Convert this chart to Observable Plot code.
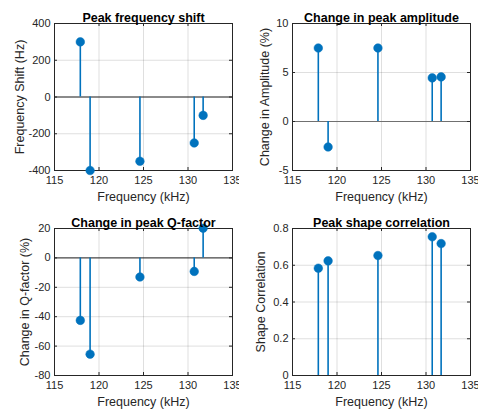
<!DOCTYPE html>
<html>
<head>
<meta charset="utf-8">
<script src="https://cdn.jsdelivr.net/npm/d3@7"></script>
<script src="https://cdn.jsdelivr.net/npm/@observablehq/plot@0.6"></script>
<style>
  html, body { margin: 0; padding: 0; background: #fff; }
  #wrap { position: relative; width: 478px; height: 412px; overflow: hidden; }
  .cell { position: absolute; width: 239px; height: 206px; }
  svg { overflow: visible; }
</style>
</head>
<body>
<div id="wrap">
  <div class="cell" id="p1" style="left:0;top:0"></div>
  <div class="cell" id="p2" style="left:239px;top:0"></div>
  <div class="cell" id="p3" style="left:0;top:206px"></div>
  <div class="cell" id="p4" style="left:239px;top:206px"></div>
</div>
<script>
// ---- data ----
const freqs = [117.9, 119.0, 124.6, 130.7, 131.7];          // kHz
const freqShift = [300, -400, -350, -250, -100];             // Hz
const ampChange = [7.5, -2.6, 7.5, 4.45, 4.55];              // %
const qChange = [-42.5, -65.5, -13, -9.2, 20.2];             // %
const shapeCorr = [0.584, 0.624, 0.653, 0.755, 0.718];
const xTicks = [115, 120, 125, 130, 135];
const yTicks1 = [-400, -200, 0, 200, 400];
const yTicks2 = [-5, 0, 5, 10];
const yTicks3 = [-80, -60, -40, -20, 0, 20];
const yTicks4 = [0, 0.2, 0.4, 0.6, 0.8];
const titles = ["Peak frequency shift", "Change in peak amplitude", "Change in peak Q-factor", "Peak shape correlation"];
const yLabels = ["Frequency Shift (Hz)", "Change in Amplitude (%)", "Change in Q-factor (%)", "Shape Correlation"];
const xLabel = "Frequency (kHz)";

const BLUE = "#0072BD";
const INK = "#262626";
const FONT = "'Liberation Sans', Arial, sans-serif";

function panel(el, {values, yTicks, title, yLabel, baseColor, marginLeft, marginRight, marginTop, marginBottom, yLabelOffset}) {
  const W = 239, H = 206;
  const innerW = W - marginLeft - marginRight;
  const innerH = H - marginTop - marginBottom;
  const data = freqs.map((f, i) => ({f, v: values[i]}));
  const yDomain = [yTicks[0], yTicks[yTicks.length - 1]];
  const chart = Plot.plot({
    width: W, height: H,
    marginLeft, marginRight, marginTop, marginBottom,
    style: {fontFamily: FONT, fontSize: "11px", color: INK, background: "white", overflow: "visible"},
    x: {domain: [xTicks[0], xTicks[xTicks.length - 1]]},
    y: {domain: yDomain},
    marks: [
      Plot.gridX({ticks: xTicks, stroke: INK, strokeOpacity: 0.15}),
      Plot.gridY({ticks: yTicks, stroke: INK, strokeOpacity: 0.15}),
      Plot.ruleY([0], {stroke: baseColor, strokeWidth: 1}),
      Plot.ruleX(data, {x: "f", y1: 0, y2: "v", stroke: BLUE, strokeWidth: 1.6}),
      // inward ticks on all four sides
      Plot.tickX(xTicks, {x: d => d, insetTop: innerH - 3, stroke: INK}),
      Plot.tickX(xTicks, {x: d => d, insetBottom: innerH - 3, stroke: INK}),
      Plot.tickY(yTicks, {y: d => d, insetRight: innerW - 3, stroke: INK}),
      Plot.tickY(yTicks, {y: d => d, insetLeft: innerW - 3, stroke: INK}),
      Plot.frame({stroke: INK, strokeWidth: 1}),
      Plot.dot(data, {x: "f", y: "v", r: 4.3, fill: BLUE, stroke: BLUE, strokeWidth: 0.5}),
      Plot.axisX({ticks: xTicks, tickSize: 0, tickPadding: 6, tickFormat: d => String(d), fontSize: 11, fill: INK, label: null}),
      Plot.axisY({ticks: yTicks, tickSize: 0, tickPadding: 4, tickFormat: d => String(d), fontSize: 11, fill: INK, label: null}),
      Plot.text([title], {text: d => d, frameAnchor: "top", dy: -10, fontWeight: "bold", fontSize: 12.5, fill: "#000"}),
      Plot.text([xLabel], {text: d => d, frameAnchor: "bottom", dy: 30, fontSize: 12.5, fill: INK}),
      Plot.text([yLabel], {text: d => d, frameAnchor: "left", textAnchor: "middle", dx: -yLabelOffset, rotate: -90, fontSize: 12.5, fill: INK})
    ]
  });
  document.getElementById(el).appendChild(chart);
}

panel("p1", {values: freqShift, yTicks: yTicks1, title: titles[0], yLabel: yLabels[0], baseColor: INK,
  marginLeft: 54, marginRight: 7, marginTop: 23, marginBottom: 36, yLabelOffset: 35});
panel("p2", {values: ampChange, yTicks: yTicks2, title: titles[1], yLabel: yLabels[1], baseColor: "#707070",
  marginLeft: 53, marginRight: 8, marginTop: 23, marginBottom: 36, yLabelOffset: 27.5});
panel("p3", {values: qChange, yTicks: yTicks3, title: titles[2], yLabel: yLabels[2], baseColor: INK,
  marginLeft: 54, marginRight: 7, marginTop: 22, marginBottom: 37, yLabelOffset: 30});
panel("p4", {values: shapeCorr, yTicks: yTicks4, title: titles[3], yLabel: yLabels[3], baseColor: INK,
  marginLeft: 53, marginRight: 8, marginTop: 22, marginBottom: 37, yLabelOffset: 31.5});
</script>
</body>
</html>
